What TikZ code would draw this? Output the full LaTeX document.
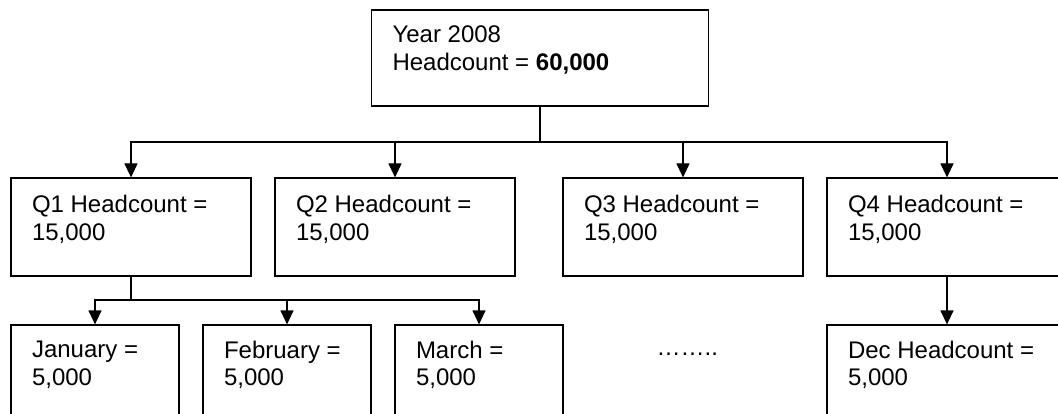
\documentclass[tikz,border=0pt]{standalone}
\usepackage{fontspec}
\setmainfont{Liberation Sans}
\usepackage{tikz}
\usetikzlibrary{arrows.meta}

\begin{document}
\begin{tikzpicture}	[>={Triangle[length=14pt,width=13pt]},x=1pt,y=-1pt,line width=1.2pt,
	box/.style={draw,inner sep=0pt,minimum width=240pt,minimum height=98pt},
	mbox/.style={box,minimum width=168pt},
	txt/.style={anchor=north west,inner sep=0pt,align=left,
		font=\fontsize{24}{27.5}\selectfont}]

	\useasboundingbox (0,0) rectangle (1058,414);
	\clip (0,0) rectangle (1058,414);
	%\draw[gray,step=50] (0,0) grid (1058,414);

	\node [box,minimum width=337pt,minimum height=96pt] (year) at (540,58) {};
	\node [box] (q1) at (131,227) {};
	\node [box] (q2) at (395,227) {};
	\node [box] (q3) at (683,227) {};
	\node [box] (q4) at (947,227) {};
	\node [mbox] (jan) at (95,374) {};
	\node [mbox] (feb) at (287,374) {};
	\node [mbox] (mar) at (479,374) {};
	\node [box] (dec) at (947,374) {};

	\node [txt] (tyear) at ([shift={(21,16)}]year.north west)
	{Year 2008\\Headcount = \textbf{60,000}};
	\node [txt] (tq1) at ([shift={(21,17.5)}]q1.north west) {Q1 Headcount =\\15,000};
	\node [txt] (tq2) at ([shift={(21,17.5)}]q2.north west) {Q2 Headcount =\\15,000};
	\node [txt] (tq3) at ([shift={(21,17.5)}]q3.north west) {Q3 Headcount =\\15,000};
	\node [txt] (tq4) at ([shift={(21,17.5)}]q4.north west) {Q4 Headcount =\\15,000};
	\node [txt] (tjan) at ([shift={(21,16)}]jan.north west) {January =\\5,000};
	\node [txt] (tfeb) at ([shift={(21,16)}]feb.north west) {February =\\5,000};
	\node [txt] (tmar) at ([shift={(21,16)}]mar.north west) {March =\\5,000};
	\node [txt] (tdec) at ([shift={(21,16)}]dec.north west) {Dec Headcount =\\5,000};
	\node [txt,anchor=base west] (more) at (656,355) {……..};

	\coordinate (ybus) at (540,142);
	\coordinate (qbus) at (131,300);

	\draw (year.south) -- (ybus);
	\draw[->] (ybus) -| (q1.north);
	\draw[->] (ybus) -| (q2.north);
	\draw[->] (ybus) -| (q3.north);
	\draw[->] (ybus) -| (q4.north);

	\draw (q1.south) -- (qbus);
	\draw[->] (qbus) -| (jan.north);
	\draw[->] (qbus) -| (feb.north);
	\draw[->] (qbus) -| (mar.north);
	\draw[->] (q4.south) -- (dec.north);
\end{tikzpicture}
\end{document}
